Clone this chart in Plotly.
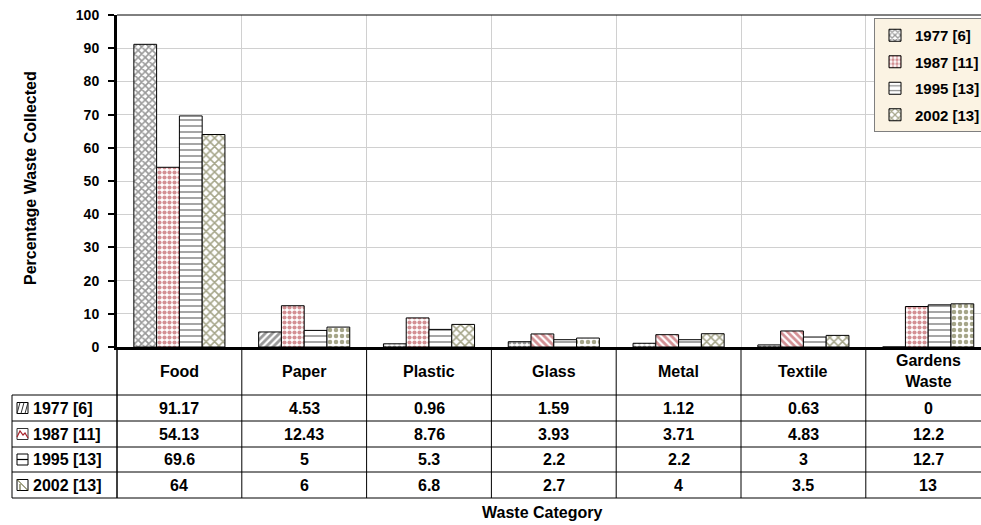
import plotly.graph_objects as go

# ---- data ---------------------------------------------------------------
categories = ["Food", "Paper", "Plastic", "Glass", "Metal", "Textile", "Gardens Waste"]
series_names = ["1977 [6]", "1987 [11]", "1995 [13]", "2002 [13]"]
y1977 = [91.17, 4.53, 0.96, 1.59, 1.12, 0.63, 0]
y1987 = [54.13, 12.43, 8.76, 3.93, 3.71, 4.83, 12.2]
y1995 = [69.6, 5, 5.3, 2.2, 2.2, 3, 12.7]
y2002 = [64, 6, 6.8, 2.7, 4, 3.5, 13]
y_ticks = [0, 10, 20, 30, 40, 50, 60, 70, 80, 90, 100]
series_values = [y1977, y1987, y1995, y2002]

# ---- styling ------------------------------------------------------------
FONT = "Liberation Sans, Arial, sans-serif"
W, H = 981, 525
L, R, T, B = 117, 0, 15, 178
PW, PH = W - L - R, H - T - B
CAT_W = 124.8  # pixel width of one category slot

fg_colors = ["#333333", "#a8222a", "#111111", "#4c4c14"]
shapes_per_series = [
    ["x", "/", ".", ".", ".", ".", ""],
    [".", ".", ".", "\\", "\\", "\\", "."],
    ["-", "-", "-", "-", "-", "-", "-"],
    ["x", ".", "x", ".", "x", "x", "."],
]
sizes_per_series = [5, 5, 6, 6]
solid_per_series = [0.55, 0.55, 0.25, 0.45]


def px_x(px):
    return (px - L) / PW


def px_y(py):
    return (H - B - py) / PH


fig = go.Figure()
for name, vals, col, shp, sz, sol in zip(series_names, series_values, fg_colors,
                                         shapes_per_series, sizes_per_series, solid_per_series):
    fig.add_trace(go.Bar(
        name=name, x=categories, y=vals,
        marker=dict(color="white", line=dict(color="black", width=1),
                    pattern=dict(shape=shp, fgcolor=col, bgcolor="white",
                                 size=sz, solidity=sol)),
        legendgroup=name,
    ))

x_max = (W - L) / CAT_W - 0.5

shapes = []
annotations = []

# plot-area top border
shapes.append(dict(type="line", xref="paper", yref="paper", x0=0, x1=1, y0=1, y1=1,
                   line=dict(color="black", width=1)))

# ---- data table below the plot ------------------------------------------
row_lines = [395, 421, 447, 472, 498]
for py in row_lines:
    shapes.append(dict(type="line", xref="paper", yref="paper",
                       x0=px_x(12), x1=1, y0=px_y(py), y1=px_y(py),
                       line=dict(color="black", width=1)))
# left edge of row-label column and the axis column edge
shapes.append(dict(type="line", xref="paper", yref="paper", x0=px_x(12), x1=px_x(12),
                   y0=px_y(395), y1=px_y(498), line=dict(color="black", width=1)))
shapes.append(dict(type="line", xref="paper", yref="paper", x0=0, x1=0,
                   y0=px_y(347), y1=px_y(498), line=dict(color="black", width=1.5)))
# column separators at category boundaries
for i in range(len(categories)):
    xb = i + 0.5
    if xb < x_max:
        shapes.append(dict(type="line", xref="x", yref="paper", x0=xb, x1=xb,
                           y0=px_y(347), y1=px_y(498), line=dict(color="black", width=1)))

TXT = dict(family=FONT, size=16, color="black", weight="bold")

# header row: category names
for i, c in enumerate(categories):
    label = c.replace(" ", "<br>") if len(c) > 8 else c
    annotations.append(dict(x=i, xref="x", y=px_y(371), yref="paper", text=label,
                            showarrow=False, xanchor="center", yanchor="middle", font=TXT))

row_centers = [408, 434, 459.5, 485]
for name, vals, yc in zip(series_names, series_values, row_centers):
    annotations.append(dict(x=px_x(31), xref="paper", y=px_y(yc), yref="paper", text=name,
                            showarrow=False, xanchor="left", yanchor="middle", font=TXT))
    for i, v in enumerate(vals):
        annotations.append(dict(x=i, xref="x", y=px_y(yc), yref="paper", text=f"{v:g}",
                                showarrow=False, xanchor="center", yanchor="middle", font=TXT))


# small legend keys in the row-label column
def key_box(yc, edge="black"):
    x0, x1 = px_x(17), px_x(28)
    y0, y1 = px_y(yc + 5.5), px_y(yc - 5.5)
    return dict(type="rect", xref="paper", yref="paper", x0=x0, x1=x1, y0=y0, y1=y1,
                line=dict(color=edge, width=1), fillcolor="white")


def seg(xa, ya, xb, yb, color, width=1):
    return dict(type="line", xref="paper", yref="paper", x0=px_x(xa), x1=px_x(xb),
                y0=px_y(ya), y1=px_y(yb), line=dict(color=color, width=width))


yc = row_centers[0]
shapes.append(key_box(yc))
for d in (0, 4, 8):
    shapes.append(seg(17 + d, yc + 5.5, 17 + d + 3, yc - 5.5, "#333333"))
yc = row_centers[1]
shapes.append(key_box(yc, "#333333"))
shapes.append(dict(type="path", xref="paper", yref="paper",
                   path=(f"M {px_x(17)},{px_y(yc+3)} L {px_x(20)},{px_y(yc-3)} "
                         f"L {px_x(23)},{px_y(yc+1)} L {px_x(25)},{px_y(yc-1)} L {px_x(28)},{px_y(yc+4)}"),
                   line=dict(color=fg_colors[1], width=1.2)))
yc = row_centers[2]
shapes.append(key_box(yc))
shapes.append(seg(17, yc, 28, yc, "black", 1.2))
yc = row_centers[3]
shapes.append(key_box(yc))
shapes.append(seg(17, yc - 5.5, 28, yc + 5.5, fg_colors[3]))
shapes.append(seg(20, yc - 1, 20, yc + 5.5, fg_colors[3]))

# axis titles
annotations.append(dict(x=px_x(30), xref="paper", y=px_y(178), yref="paper",
                        text="Percentage Waste Collected", textangle=-90, showarrow=False,
                        xanchor="center", yanchor="middle",
                        font=dict(family=FONT, size=16, color="black", weight="bold")))
annotations.append(dict(x=px_x(542), xref="paper", y=px_y(512), yref="paper",
                        text="Waste Category", showarrow=False,
                        xanchor="center", yanchor="middle",
                        font=dict(family=FONT, size=16, color="black", weight="bold")))

fig.update_layout(
    width=W, height=H,
    margin=dict(l=L, r=R, t=T, b=B, autoexpand=False),
    paper_bgcolor="white", plot_bgcolor="white",
    barmode="group", bargap=0.27, bargroupgap=0,
    showlegend=True,
    legend=dict(x=px_x(874), y=px_y(18), xanchor="left", yanchor="top",
                bgcolor="#fbf3e3", bordercolor="#7f7f7f", borderwidth=1,
                font=dict(family=FONT, size=15, color="black", weight="bold"),
                itemwidth=30, tracegroupgap=4, traceorder="grouped"),
    xaxis=dict(range=[-0.5, x_max], tickson="boundaries", showgrid=True,
               gridcolor="#d0d0d0", gridwidth=1, showticklabels=False, ticks="",
               showline=True, linecolor="black", linewidth=3, zeroline=False,
               fixedrange=True),
    yaxis=dict(range=[0, 100], tickvals=y_ticks, showgrid=True, gridcolor="#d0d0d0",
               gridwidth=1, showline=True, linecolor="black", linewidth=3,
               ticks="outside", ticklen=6, tickwidth=2, tickcolor="black",
               ticklabelstandoff=6, zeroline=False,
               tickfont=dict(family=FONT, size=14, color="black", weight="bold")),
    shapes=shapes,
    annotations=annotations,
)

fig.write_html("out.html")
